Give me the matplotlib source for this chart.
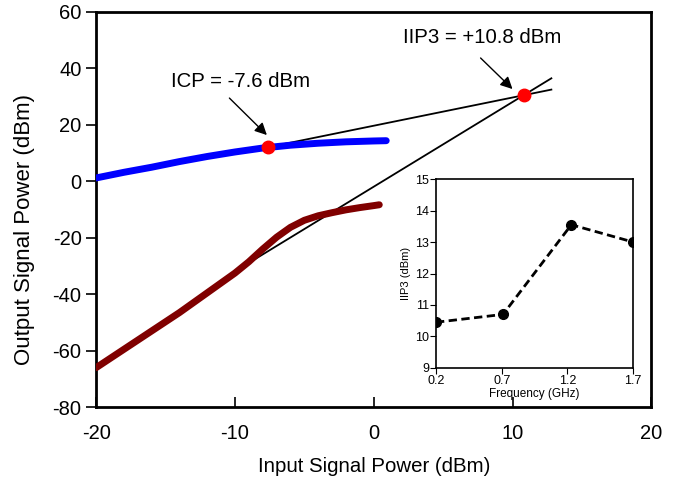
import numpy as np
import matplotlib.pyplot as plt

plt.rcParams['font.family'] = ['Liberation Sans', 'DejaVu Sans']
plt.rcParams['axes.unicode_minus'] = False

# fundamental output (blue) vs input power
fund_in = [-20, -18, -16, -14, -12, -10, -8, -6, -4, -2, 0, 0.9]
fund_out = [1.2, 3.2, 5.0, 7.0, 8.8, 10.4, 11.8, 12.8, 13.5, 14.0, 14.3, 14.4]

# third-order intermod output (dark red)
im3_in = [-20, -18, -16, -14, -12, -10, -9, -8, -7, -6, -5, -4, -3, -2, -1, 0, 0.4]
im3_out = [-66, -59.5, -53, -46.5, -39.5, -32.5, -28.5, -24, -19.8, -16.3, -13.8, -12.2, -11.1, -10.1, -9.3, -8.6, -8.3]

icp = (-7.6, 12.2)
iip3 = (10.8, 30.5)
x_end = 12.8

# inset: IIP3 vs frequency
freq = [0.2, 0.71, 1.23, 1.7]
iip3_f = [10.45, 10.7, 13.55, 13.0]

fig = plt.figure(figsize=(6.87, 4.79), dpi=100)
ax = fig.add_axes([0.14, 0.150, 0.808, 0.825])

ax.plot(fund_in, fund_out, color='#0000ff', lw=5, solid_capstyle='round', zorder=3)
ax.plot(im3_in, im3_out, color='#800000', lw=5, solid_capstyle='round', zorder=3)

# extrapolated slope-1 and slope-3 lines through the intercept point
b1 = iip3[1] - iip3[0]
b3 = iip3[1] - 3 * iip3[0]
ax.plot([icp[0], x_end], [icp[0] + b1, x_end + b1], color='black', lw=1.3, zorder=2)
ax.plot([-10.3, x_end], [3 * -10.3 + b3, 3 * x_end + b3], color='black', lw=1.3, zorder=2)

ax.plot(*icp, 'o', color='#ff0000', ms=9, zorder=4)
ax.plot(*iip3, 'o', color='#ff0000', ms=9, zorder=4)

ax.text(-9.6, 35.2, 'ICP = -7.6 dBm', ha='center', va='center', fontsize=14.7)
ax.text(7.8, 51.1, 'IIP3 = +10.8 dBm', ha='center', va='center', fontsize=14.7)
arrow = dict(arrowstyle='-|>', color='black', lw=1.0, mutation_scale=18,
             shrinkA=0, shrinkB=0)
ax.annotate('', xy=(-7.7, 16.4), xytext=(-10.4, 29.5), arrowprops=arrow)
ax.annotate('', xy=(10.0, 32.7), xytext=(7.7, 43.7), arrowprops=arrow)

ax.set_xlim(-20, 20)
ax.set_ylim(-80, 60)
ax.set_xticks([-20, -10, 0, 10, 20])
ax.set_yticks(np.arange(-80, 61, 20))
ax.tick_params(axis='y', direction='out', length=7, width=1.2, labelsize=14.5)
ax.tick_params(axis='x', direction='in', length=7, width=1.2, labelsize=14.5, pad=12)
for s in ax.spines.values():
    s.set_linewidth(2)
ax.set_xlabel('Input Signal Power (dBm)', fontsize=14.7, labelpad=10)
ax.set_ylabel('Output Signal Power (dBm)', fontsize=16)
ax.yaxis.set_label_coords(-0.11, 0.45)

ins = fig.add_axes([0.6346, 0.232, 0.287, 0.394])
ins.plot(freq, iip3_f, 'o--', color='black', lw=2, ms=7, dashes=(3, 1.6))
ins.set_xlim(0.2, 1.7)
ins.set_ylim(9, 15)
ins.set_xticks([0.2, 0.7, 1.2, 1.7])
ins.set_xticklabels(['0.2', '0.7', '1.2', '1.7'])
ins.set_yticks(range(9, 16))
ins.tick_params(direction='out', length=4, width=0.8, labelsize=9, pad=1)
for s in ins.spines.values():
    s.set_linewidth(1.2)
ins.set_xlabel('Frequency (GHz)', fontsize=8.5, labelpad=1)
ins.set_ylabel('IIP3 (dBm)', fontsize=8, labelpad=3)

fig.savefig('out.png', dpi=100)
